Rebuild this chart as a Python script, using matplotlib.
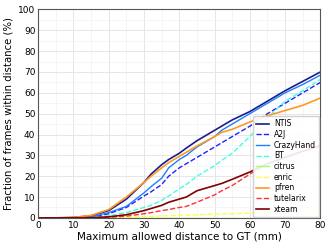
import matplotlib
matplotlib.use('Agg')
import matplotlib.pyplot as plt
from matplotlib.ticker import MultipleLocator

# distance thresholds (mm)
dist = [0, 5, 10, 15, 20, 25, 30, 32, 35, 37, 40, 42, 45, 50, 52, 55, 60, 65, 70, 75, 80]

# fraction of frames within distance (%)
ntis = [0, 0, 0.2, 1.0, 3.5, 9, 17, 21, 25.5, 28, 31, 33.5, 37, 42, 44, 47, 51, 56, 61, 65.5, 70]
a2j = [0, 0, 0, 0.3, 2, 5, 10.5, 12.5, 16, 20, 24, 26, 29, 34, 36, 39, 44, 50, 55, 60, 65]
crazyhand = [0, 0, 0, 0.5, 2.5, 5.5, 12, 15, 19, 24, 28, 30, 34, 39, 42, 45, 50, 55, 60, 64, 68.5]
bt = [0, 0, 0, 0.1, 1, 2.5, 5, 6, 8.5, 10.5, 14, 16, 20, 25, 27.5, 31, 39, 48, 56, 61, 66.5]
citrus = [0] * 21
enric = [0, 0, 0, 0, 0, 0.2, 0.6, 0.7, 0.9, 1.0, 1.2, 1.3, 1.5, 1.8, 1.9, 2.0, 2.3, 2.5, 2.7, 2.9, 3.2]
pfren = [0, 0, 0.2, 1.2, 4, 10, 17, 20, 24, 26.5, 29.5, 31.5, 34.5, 39, 41, 42.5, 46, 49, 51.5, 54, 57.5]
tutelarix = [0, 0, 0, 0, 0.3, 0.8, 2, 2.5, 3.5, 4, 5, 5.5, 7.5, 11, 13, 15.5, 21, 26, 29, 32, 35]
xteam = [0, 0, 0, 0.1, 0.5, 1.5, 3.5, 4.5, 6, 7.5, 9, 10, 13, 15.5, 16.5, 18.5, 22, 26, 29, 32, 34.5]

fig, ax = plt.subplots(figsize=(3.32, 2.49), dpi=100)

ax.plot(dist, ntis, color='#1c1c8c', lw=1.2, label='NTIS')
ax.plot(dist, a2j, color='#2020ff', lw=1.0, ls='--', label='A2J')
ax.plot(dist, crazyhand, color='#1e7fff', lw=1.0, label='CrazyHand')
ax.plot(dist, bt, color='#40ffe0', lw=1.0, ls='--', label='BT')
ax.plot(dist, citrus, color='#a0ff70', lw=1.0, label='citrus')
ax.plot(dist, enric, color='#ffff40', lw=1.0, ls='--', label='enric')
ax.plot(dist, pfren, color='#ff9a20', lw=1.2, label='pfren')
ax.plot(dist, tutelarix, color='#ff3030', lw=1.0, ls='--', label='tutelarix')
ax.plot(dist, xteam, color='#800000', lw=1.2, label='xteam')

ax.set_xlim(0, 80)
ax.set_ylim(0, 100)
ax.xaxis.set_major_locator(MultipleLocator(10))
ax.yaxis.set_major_locator(MultipleLocator(10))
ax.xaxis.set_minor_locator(MultipleLocator(5))
ax.yaxis.set_minor_locator(MultipleLocator(5))
ax.grid(which='major', color='#e6e6e6', lw=0.7)
ax.grid(which='minor', color='#f2f2f2', lw=0.5)
ax.tick_params(which='both', length=0, labelsize=6.5, pad=2)
for s in ax.spines.values():
    s.set_color('#555555')
    s.set_linewidth(0.8)

ax.set_xlabel('Maximum allowed distance to GT (mm)', fontsize=7.5, labelpad=1)
ax.set_ylabel('Fraction of frames within distance (%)', fontsize=7.3, labelpad=3)
ax.legend(loc='lower right', fontsize=5.5, handlelength=1.7, labelspacing=0.22,
          borderaxespad=0.15, handletextpad=0.6, framealpha=0.9)

fig.subplots_adjust(left=0.115, right=0.965, top=0.962, bottom=0.125)
fig.savefig('out.png', dpi=100)
